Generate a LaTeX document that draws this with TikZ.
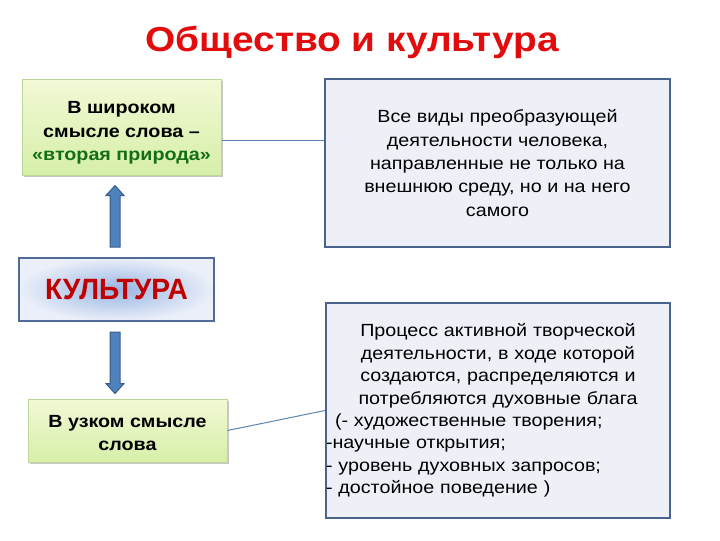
\documentclass[tikz,border=0pt]{standalone}
\usepackage{fontspec}
\setmainfont{Liberation Sans}[FakeStretch=1.12]
\newfontfamily\kultfont{Liberation Sans}[FakeStretch=0.96]
\usetikzlibrary{calc,shadows}
\definecolor{titlered}{RGB}{226,12,12}
\definecolor{kultred}{RGB}{192,0,0}
\definecolor{greentext}{RGB}{20,110,20}
\definecolor{greentop}{RGB}{242,249,214}
\definecolor{greenbot}{RGB}{214,239,168}
\definecolor{greenborder}{RGB}{190,214,150}
\definecolor{descfill}{RGB}{237,241,247}
\definecolor{descborder}{RGB}{72,100,140}
\definecolor{kultin}{RGB}{152,180,226}
\definecolor{kultout}{RGB}{234,239,249}
\definecolor{kultborder}{RGB}{80,108,150}
\definecolor{arrowfill}{RGB}{79,129,189}
\definecolor{arrowborder}{RGB}{56,93,138}
\definecolor{connline}{RGB}{92,130,180}
\begin{document}
\begin{tikzpicture}[x=0.75pt,y=-0.75pt,
  greenbox/.style={draw=greenborder, line width=0.75pt, top color=greentop, bottom color=greenbot,
    drop shadow={shadow xshift=1.2pt, shadow yshift=-1.5pt, opacity=0.22, fill=black},
    align=center, inner sep=0pt, font=\fontsize{13.2}{17.6}\selectfont\bfseries},
  descbox/.style={draw=descborder, line width=1.5pt, fill=descfill, inner sep=0pt},
  kultbox/.style={draw=kultborder, line width=1.5pt, inner color=kultin, outer color=kultout,
    inner sep=0pt, font=\kultfont\fontsize{22}{26}\selectfont\bfseries, text=kultred},
  blockarrow/.style={fill=arrowfill, draw=arrowborder, line width=0.75pt},
  conn/.style={draw=connline, line width=0.75pt}]
\useasboundingbox (0,0) rectangle (720,540);

\node[font=\fontsize{26}{30}\selectfont\bfseries, text=titlered] (title) at (352,42) {Общество и культура};

\node[greenbox, minimum width=149.25pt, minimum height=72pt] (w1) at (121.5,127)
  {\rule{0pt}{18pt}В широком\\смысле слова –\\\textcolor{greentext}{«вторая природа»}};
\node[descbox, minimum width=258.75pt, minimum height=126pt, align=center,
  font=\fontsize{13.2}{17.5}\selectfont] (d1) at (497.5,163)
  {Все виды преобразующей\\деятельности человека,\\направленные не только на\\внешнюю среду, но и на него\\самого};
\node[kultbox, minimum width=146.25pt, minimum height=47.25pt] (kult) at (116.5,289.5) {КУЛЬТУРА};
\node[greenbox, minimum width=149.25pt, minimum height=47.25pt] (n1) at (127.5,430.5)
  {\rule{0pt}{12.5pt}В узком смысле\\слова};
\node[descbox, minimum width=258pt, minimum height=161.25pt, text width=258pt, align=center,
  font=\fontsize{13.2}{16.8}\selectfont] (d2) at (498,410.5)
  {Процесс активной творческой\\деятельности, в ходе которой\\создаются, распределяются и\\потребляются духовные блага\\
   \makebox[258pt][l]{\hspace*{6.75pt}(- художественные творения;}\\
   \makebox[258pt][l]{-научные открытия;}\\
   \makebox[258pt][l]{- уровень духовных запросов;}\\
   \makebox[258pt][l]{- достойное поведение )}};

% up arrow
\draw[blockarrow] ($(kult.north)+(-6.5,-10)$) -- ($(kult.north |- w1.south)+(-6.5,20)$)
  -- ($(kult.north |- w1.south)+(-10.5,20)$) -- ($(kult.north |- w1.south)+(-1.5,10)$)
  -- ($(kult.north |- w1.south)+(7.5,20)$) -- ($(kult.north |- w1.south)+(3.5,20)$)
  -- ($(kult.north)+(3.5,-10)$) -- cycle;
% down arrow
\draw[blockarrow] ($(kult.south)+(-6.5,10)$) -- ($(kult.south |- n1.north)+(-6.5,-15)$)
  -- ($(kult.south |- n1.north)+(-10.5,-15)$) -- ($(kult.south |- n1.north)+(-1.5,-5)$)
  -- ($(kult.south |- n1.north)+(7.5,-15)$) -- ($(kult.south |- n1.north)+(3.5,-15)$)
  -- ($(kult.south)+(3.5,10)$) -- cycle;

\draw[conn] ($(w1.east)+(0,13)$) -- ($(d1.west)+(0,-23)$);
\draw[conn] (n1.east) -- (d2.west);
\end{tikzpicture}
\end{document}
